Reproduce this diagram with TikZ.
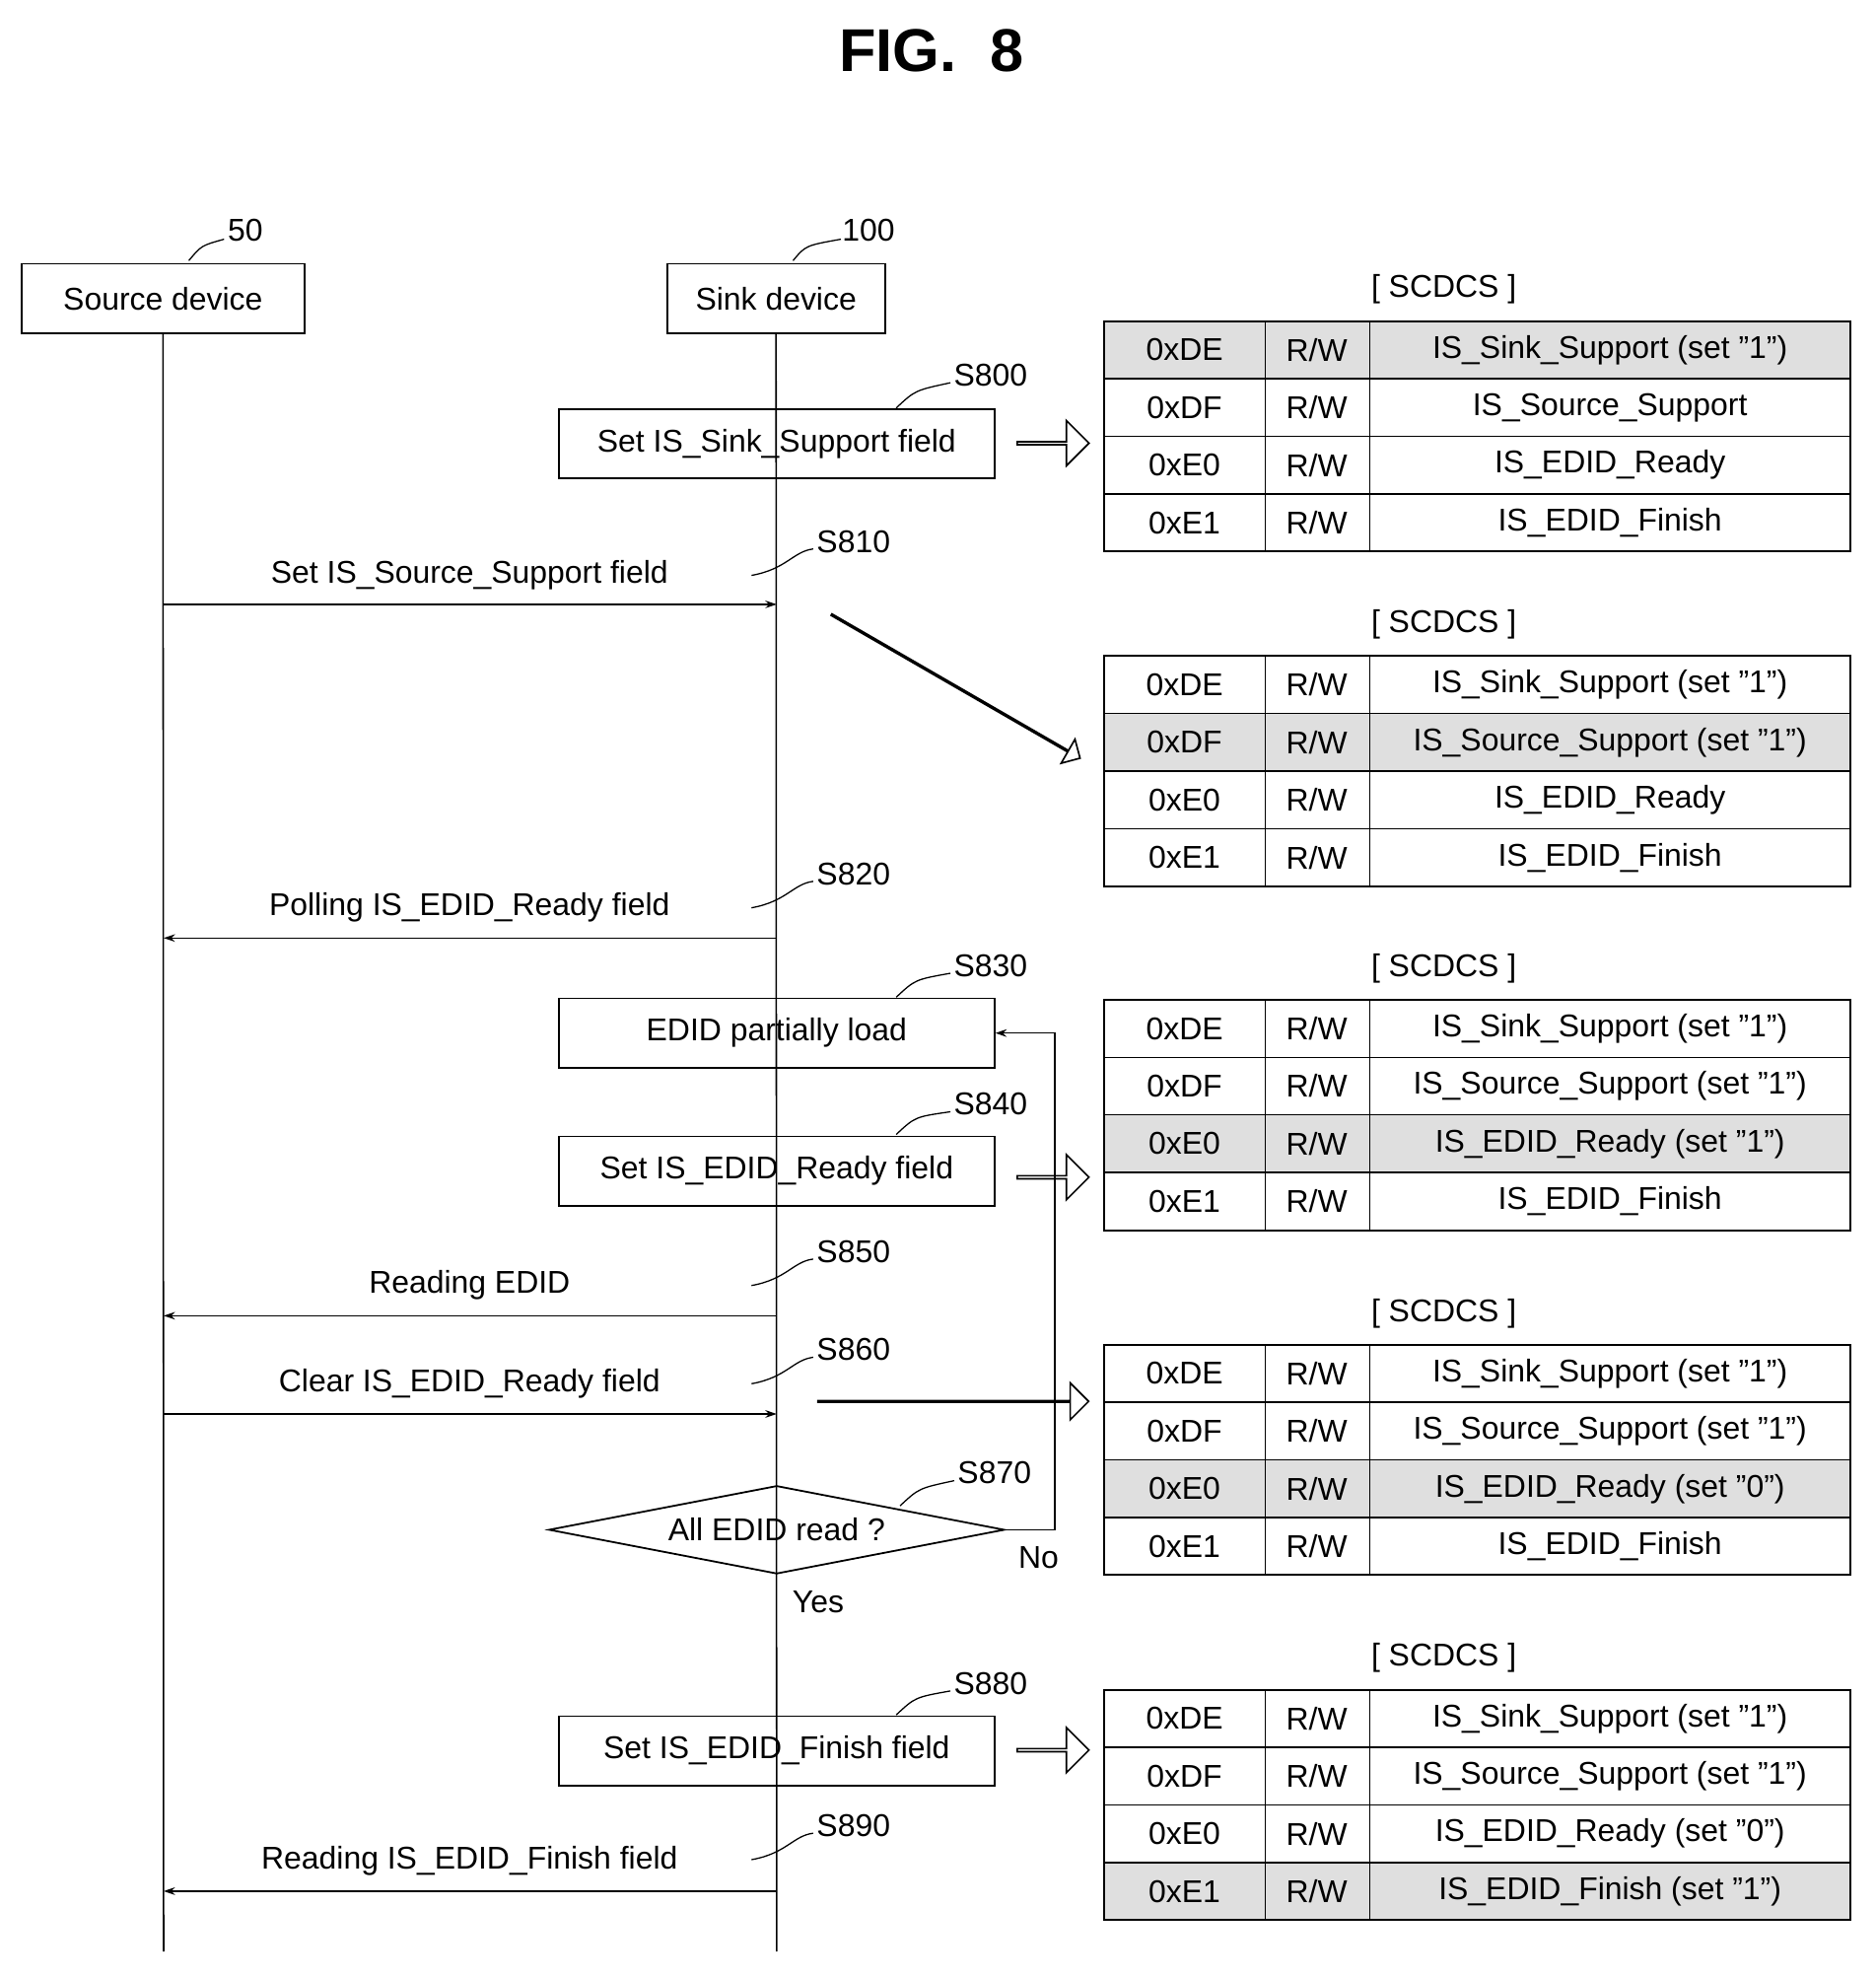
\documentclass[tikz,border=0pt]{standalone}
\usepackage{fontspec}
\setmainfont{Liberation Sans}
\usetikzlibrary{shapes.geometric,shapes.arrows,arrows.meta}
\newcommand\scdcstab[7]{%
  \node[font=\fnt] (h#1) at (1147,#1-25) {[ SCDCS ]};
  \fill[gray!25] (877,#1+#2*45.75-45.75) rectangle (1470,#1+#2*45.75);
  \draw[line width=1.6pt] (877,#1) rectangle (1470,#1+183);
  \foreach \i in {1,2,3} \draw[line width=1.2pt] (877,#1+\i*45.75) -- (1470,#1+\i*45.75);
  \draw[line width=1.2pt] (1005,#1) -- (1005,#1+183) (1088,#1) -- (1088,#1+183);
  \foreach \a/\t [count=\i] in {0xDE/#3,0xDF/#4,0xE0/#5,0xE1/#6}{
    \node[font=\fnt] at (941,#1+\i*45.75-22.9) {\a};
    \node[font=\fnt] at (1046,#1+\i*45.75-22.9) {R/W};
    \node[font=\fnt] at (1279,#1+\i*45.75-22.9) {\t};}
}
\newcommand\fnt{\fontsize{25}{28}\selectfont}
\begin{document}
\begin{tikzpicture}[x=1pt,y=-1pt,
  box/.style={draw,line width=1.4pt,font=\fnt,minimum height=55,inner sep=0},
  msg/.style={line width=1.2pt,-{Stealth[length=9,width=6]}},
  lbl/.style={font=\fnt},
  lead/.style={line width=1pt},
  harrow/.style={single arrow,draw,line width=1.3pt,minimum width=36,single arrow head extend=9,inner sep=0,single arrow head indent=0,minimum height=57}]
\useasboundingbox (0,0) rectangle (1490,1571);
\node[font=\fontsize{48}{50}\selectfont\bfseries\rmfamily] (title) at (740,40) {FIG.\ \ 8};
% devices
\node[box,minimum width=225] (src) at (129.5,237) {Source device};
\node[box,minimum width=173] (snk) at (616.5,237) {Sink device};
\node[lbl] (n50) at (195,183) {50};
\draw[lead] (150,207) .. controls (160,195) .. (178,190);
\node[lbl] (n100) at (690,183) {100};
\draw[lead] (630,207) .. controls (640,195) .. (668,190);
\coordinate (srcEnd) at (130,1550);
\coordinate (snkEnd) at (617,1550);
\draw[line width=1.2pt] (src.south) -- (srcEnd);
\draw[line width=1.2pt] (snk.south) -- (snkEnd);
% step boxes
\node[box,minimum width=346] (s800) at (617,352.5) {Set IS\_Sink\_Support field};
\node[box,minimum width=346] (s830) at (617,820.5) {EDID partially load};
\node[box,minimum width=346] (s840) at (617,930) {Set IS\_EDID\_Ready field};
\node[box,minimum width=346] (s880) at (617,1390.5) {Set IS\_EDID\_Finish field};
\node[diamond,draw,line width=1.4pt,aspect=5.2,minimum width=362,minimum height=70,inner sep=0,font=\fnt] (s870) at (617,1215) {All EDID read ?};
% step labels
\foreach \t/\x/\y/\lx/\ly in {S800/787/298/712/324, S830/787/767/712/792, S840/787/877/712/901, S880/787/1337/712/1362, S870/790/1170/715/1196}{
  \node[lbl] at (\x,\y) {\t};
  \draw[lead] (\lx,\ly) .. controls (\lx+15,\ly-14) .. (\x-32,\y+6);}
\foreach \t/\y in {S810/430, S820/694, S850/994, S860/1072, S890/1450}{
  \node[lbl] at (678,\y) {\t};
  \draw[lead] (597,\y+27) .. controls (625,\y+22) and (630,\y+8) .. (646,\y+6);}
% messages
\coordinate (a1) at (130,480); \coordinate (b1) at (617,480);
\draw[msg] (a1) -- (b1); \node[lbl] at (373,457) {Set IS\_Source\_Support field};
\coordinate (a2) at (617,745); \coordinate (b2) at (130,745);
\draw[msg] (a2) -- (b2); \node[lbl] at (373,721) {Polling IS\_EDID\_Ready field};
\coordinate (a3) at (617,1045); \coordinate (b3) at (130,1045);
\draw[msg] (a3) -- (b3); \node[lbl] at (373,1021) {Reading EDID};
\coordinate (a4) at (130,1123); \coordinate (b4) at (617,1123);
\draw[msg] (a4) -- (b4); \node[lbl] at (373,1099) {Clear IS\_EDID\_Ready field};
\coordinate (a5) at (617,1502); \coordinate (b5) at (130,1502);
\draw[msg] (a5) -- (b5); \node[lbl] at (373,1478) {Reading IS\_EDID\_Finish field};
% loop
\draw[msg] (s870.east) -- (838,1215) -- (838,820.5) -- (s830.east);
\node[lbl] at (825,1237) {No};
\node[lbl] at (650,1272) {Yes};
% hollow arrows
\node[harrow] (h1) at (836,352) {};
\node[harrow] (h3) at (836,935) {};
\node[harrow] (h5) at (836,1390) {};
\node[harrow,minimum height=228,minimum width=22,single arrow head extend=10,rotate=-30] (h2) at (759,545) {};
\node[harrow,minimum height=215,minimum width=24,single arrow head extend=14] (h4) at (757,1113) {};
% tables
\scdcstab{255}{1}{IS\_Sink\_Support (set "1")}{IS\_Source\_Support}{IS\_EDID\_Ready}{IS\_EDID\_Finish}{}
\scdcstab{521}{2}{IS\_Sink\_Support (set "1")}{IS\_Source\_Support (set "1")}{IS\_EDID\_Ready}{IS\_EDID\_Finish}{}
\scdcstab{794}{3}{IS\_Sink\_Support (set "1")}{IS\_Source\_Support (set "1")}{IS\_EDID\_Ready (set "1")}{IS\_EDID\_Finish}{}
\scdcstab{1068}{3}{IS\_Sink\_Support (set "1")}{IS\_Source\_Support (set "1")}{IS\_EDID\_Ready (set "0")}{IS\_EDID\_Finish}{}
\scdcstab{1342}{4}{IS\_Sink\_Support (set "1")}{IS\_Source\_Support (set "1")}{IS\_EDID\_Ready (set "0")}{IS\_EDID\_Finish (set "1")}{}
\end{tikzpicture}
\end{document}
